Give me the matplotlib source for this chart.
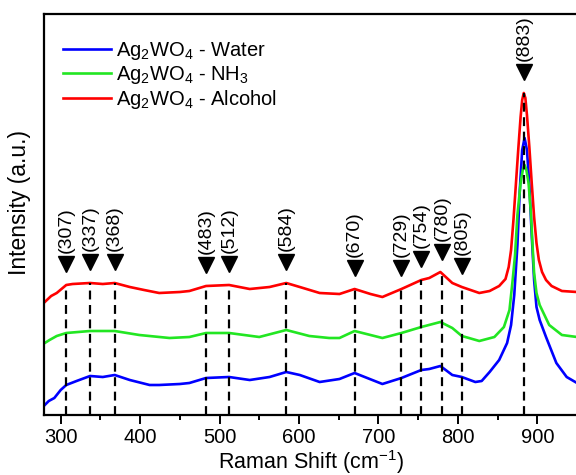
import numpy as np
import matplotlib
matplotlib.use("Agg")
import matplotlib.pyplot as plt

plt.rcParams['font.family'] = ['Liberation Sans', 'DejaVu Sans']
plt.rcParams['mathtext.fontset'] = 'custom'
plt.rcParams['mathtext.rm'] = 'Liberation Sans'
plt.rcParams['mathtext.it'] = 'Liberation Sans:italic'

# Raman shift (cm-1) / intensity (a.u.)
red_x = [280, 288, 295, 307, 315, 337, 353, 368, 387, 405, 424, 450, 462, 483, 512,
         538, 563, 584, 601, 626, 651, 670, 690, 705, 729, 754, 764, 778, 793, 805,
         827, 840, 852, 860, 864, 867, 870, 873, 876, 879, 881, 883, 885, 887, 890,
         893, 896, 899, 902, 906, 911, 918, 931, 950]
red_y = [113, 119, 122, 130, 131, 132, 131, 132, 128, 125, 122, 123, 124, 129, 130,
         126, 128, 132, 128, 122, 121, 126, 121, 118, 126, 135, 137, 143, 132, 128,
         122, 124, 129, 136, 148, 165, 195, 230, 265, 298, 315, 322, 317, 300, 268,
         232, 198, 172, 155, 143, 135, 129, 124, 123]

green_x = [280, 286, 295, 307, 337, 368, 399, 437, 462, 483, 512, 550, 584, 613, 638,
           651, 670, 705, 729, 754, 778, 793, 805, 814, 827, 846, 858, 865, 869, 872,
           875, 879, 882, 884, 886, 889, 892, 894, 896, 899, 903, 915, 931, 950]
green_y = [72, 75, 79, 82, 84, 84, 80, 77, 78, 82, 82, 78, 85, 79, 77,
           77, 84, 77, 82, 88, 93, 87, 79, 77, 74, 78, 88, 105, 135, 160,
           200, 232, 246, 250, 246, 232, 202, 170, 142, 122, 110, 90, 80, 78]

blue_x = [280, 285, 292, 300, 307, 320, 337, 353, 368, 387, 412, 424, 450, 462, 483,
          512, 538, 563, 584, 601, 626, 651, 670, 705, 729, 754, 764, 778, 793, 805,
          822, 830, 840, 852, 862, 867, 871, 875, 878, 881, 884, 887, 890, 893, 896,
          899, 903, 911, 924, 937, 950]
blue_y = [10, 14, 17, 25, 30, 34, 39, 38, 40, 35, 30, 30, 31, 32, 37,
          38, 35, 38, 43, 40, 33, 36, 42, 31, 37, 45, 46, 49, 40, 38,
          33, 34, 43, 55, 72, 90, 120, 170, 225, 265, 277, 265, 230, 180, 135,
          108, 95, 78, 52, 38, 32]

peaks = [307, 337, 368, 483, 512, 584, 670, 729, 754, 780, 805, 883]

fig = plt.figure(figsize=(5.76, 4.75), dpi=100)
ax = fig.add_axes([44 / 576, 60 / 475, 533 / 576, 401.5 / 475])

ax.plot(blue_x, blue_y, color='#0000ff', lw=1.9, label='Ag$_2$WO$_4$ - Water')
ax.plot(green_x, green_y, color='#22e622', lw=1.9, label='Ag$_2$WO$_4$ - NH$_3$')
ax.plot(red_x, red_y, color='#ff0000', lw=1.9, label='Ag$_2$WO$_4$ - Alcohol')

# dashed guides, arrow heads and labels above the top (red) spectrum
top = np.interp(peaks, red_x, red_y)
ax.vlines(peaks, 0, top, colors='black', linestyles=(0, (4, 2.5)), lw=1.6, zorder=5)
for p, t in zip(peaks, top):
    ax.plot(p, t + 21, marker='v', color='black', ms=11, zorder=6)
    ax.annotate('(%d)' % p, (p, t + 21), xytext=(0, 8), textcoords='offset points',
                rotation=90, ha='center', va='bottom', fontsize=14)

ax.set_xlim(279, 950)
ax.set_ylim(0, 401.5)
ax.set_xticks(np.arange(300, 901, 100))
ax.set_xticks(np.arange(350, 951, 100), minor=True)
ax.set_yticks([])
ax.tick_params(axis='x', which='major', direction='out', length=6.5, width=1.4,
               labelsize=14.5, pad=3)
ax.tick_params(axis='x', which='minor', direction='out', length=3.5, width=1.4)
for s in ax.spines.values():
    s.set_linewidth(1.6)
ax.spines['right'].set_visible(False)

ax.set_xlabel('Raman Shift (cm$^{-1}$)', fontsize=15.5, labelpad=1)
ax.set_ylabel('Intensity (a.u.)', fontsize=16.5)
ax.yaxis.set_label_coords(-0.024, 0.53)

ax.legend(loc='upper left', bbox_to_anchor=(0.02, 0.955), frameon=False,
          fontsize=14.5, handlelength=2.4, handletextpad=0.25, labelspacing=0.1,
          borderaxespad=0)

fig.savefig('out.png', dpi=100)
